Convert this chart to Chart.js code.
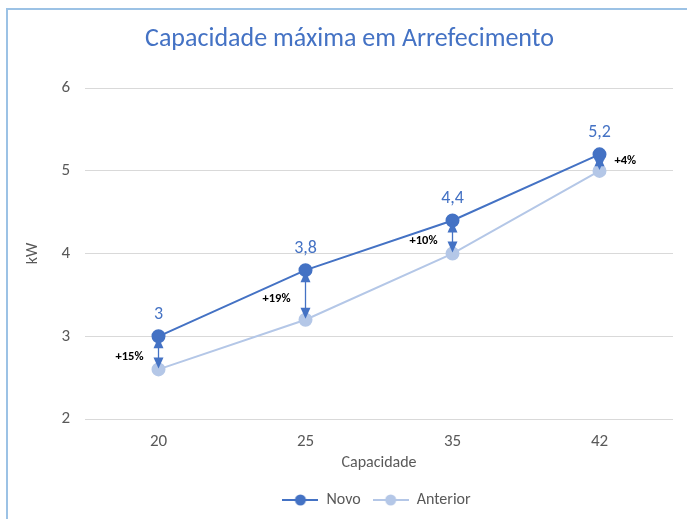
<!DOCTYPE html>
<html>
<head>
<meta charset="utf-8">
<script src="https://cdn.jsdelivr.net/npm/chart.js@4.4.0/dist/chart.umd.min.js"></script>
<style>
  html, body { margin: 0; padding: 0; background: #fff; overflow: hidden; }
  #frame {
    position: absolute; left: 6px; top: 8px;
    width: 681px; height: 511px;
    border-left: 2px solid #9CC2E5; border-top: 2px solid #9CC2E5;
  }
  #frame canvas { display: block; }
</style>
</head>
<body>
<div id="frame"><canvas id="myChart" width="681" height="511"></canvas></div>
<script>
var categories = ["20", "25", "35", "42"];
var novo = [3, 3.8, 4.4, 5.2];
var anterior = [2.6, 3.2, 4.0, 5.0];
var gains = ["+15%", "+19%", "+10%", "+4%"];
var gainSide = ["left", "left", "left", "right"];

var FONT = 'Calibri, Carlito, "Open Sans", sans-serif';
var blue = "#4472C4";
var lightBlue = "#B4C7E7";
var grey = "#595959";

// legend marker: short line with a dot in the middle
function legendIcon(color){
	var c = document.createElement("canvas");
	c.width = 36; c.height = 12;
	var g = c.getContext("2d");
	g.strokeStyle = color;
	g.lineWidth = 2;
	g.beginPath(); g.moveTo(0, 6); g.lineTo(36, 6); g.stroke();
	g.fillStyle = color;
	g.beginPath(); g.arc(18, 6, 5.5, 0, Math.PI * 2); g.fill();
	return c;
}

// arrows between the two series, gain labels, value labels
var arrowPlugin = {
	id: "arrows",
	afterDatasetsDraw: function(chart){
		var ctx = chart.ctx;
		var x = chart.scales.x, y = chart.scales.y;
		ctx.save();
		for (var i = 0; i < categories.length; i++){
			var px = x.getPixelForValue(i);
			var yTop = y.getPixelForValue(novo[i]);
			var yBot = y.getPixelForValue(anterior[i]);
			ctx.strokeStyle = blue;
			ctx.fillStyle = blue;
			ctx.lineWidth = 1.3;
			ctx.beginPath(); ctx.moveTo(px, yTop + 6); ctx.lineTo(px, yBot - 6); ctx.stroke();
			ctx.beginPath();
			ctx.moveTo(px, yTop + 1); ctx.lineTo(px - 5, yTop + 12); ctx.lineTo(px + 5, yTop + 12);
			ctx.closePath(); ctx.fill();
			ctx.beginPath();
			ctx.moveTo(px, yBot - 1); ctx.lineTo(px - 5, yBot - 12); ctx.lineTo(px + 5, yBot - 12);
			ctx.closePath(); ctx.fill();

			ctx.fillStyle = "#000";
			ctx.font = "bold 12.5px " + FONT;
			ctx.textBaseline = "middle";
			if (gainSide[i] == "left"){
				ctx.textAlign = "right";
				ctx.fillText(gains[i], px - 15, (yTop + yBot) / 2 + 4);
			} else {
				ctx.textAlign = "left";
				ctx.fillText(gains[i], px + 15, yTop + 7);
			}
			ctx.fillStyle = blue;
			ctx.font = "18px " + FONT;
			ctx.textAlign = "center";
			ctx.textBaseline = "middle";
			ctx.fillText(String(novo[i]).replace(".", ","), px, yTop - 22);
		}
		ctx.restore();
	},
	afterLayout: function(chart){
		// the original has title and legend slightly right of centre
		chart.titleBlock.left += 9;
		chart.titleBlock.right += 9;
		chart.legend.left += 36;
		chart.legend.right += 36;
	}
};

var ctx = document.getElementById("myChart");
var myChart = new Chart(ctx, {
	type: "line",
	data: {
		labels: categories,
		datasets: [
			{
				label: "Novo",
				data: novo,
				borderColor: blue,
				backgroundColor: blue,
				borderWidth: 2,
				pointRadius: 6,
				pointHoverRadius: 6
			}, {
				label: "Anterior",
				data: anterior,
				borderColor: lightBlue,
				backgroundColor: lightBlue,
				borderWidth: 2,
				pointRadius: 6,
				pointHoverRadius: 6
			}
		]
	},
	options: {
		responsive: false,
		animation: false,
		layout: { padding: { left: 0, right: 16, top: 0, bottom: 3 } },
		plugins: {
			title: {
				display: true,
				text: "Capacidade máxima em Arrefecimento",
				color: blue,
				font: { family: FONT, size: 26, weight: "normal" },
				padding: { top: 14, bottom: 33 }
			},
			legend: {
				position: "bottom",
				labels: {
					usePointStyle: true,
					pointStyleWidth: 36,
					color: grey,
					font: { family: FONT, size: 16 },
					padding: 12,
					generateLabels: function(chart){
						return chart.data.datasets.map(function(ds, i){
							return {
								text: ds.label,
								pointStyle: legendIcon(ds.borderColor),
								fillStyle: ds.borderColor,
								strokeStyle: ds.borderColor,
								lineWidth: 0,
								hidden: false,
								datasetIndex: i,
								fontColor: grey
							};
						});
					}
				}
			},
			tooltip: { enabled: false }
		},
		scales: {
			x: {
				offset: true,
				grid: { display: false, drawTicks: false },
				border: { display: false },
				ticks: { color: grey, font: { family: FONT, size: 17 }, padding: 13 },
				title: {
					display: true, text: "Capacidade", color: grey,
					font: { family: FONT, size: 16 }, padding: { top: 0, bottom: 7 }
				},
				afterFit: function(scale){ scale.height = 61; }
			},
			y: {
				min: 2,
				max: 6,
				ticks: { stepSize: 1, color: grey, font: { family: FONT, size: 17 }, padding: 15 },
				grid: { color: "#D9D9D9", drawTicks: false },
				border: { display: false },
				title: {
					display: true, text: "kW", color: grey,
					font: { family: FONT, size: 16 }, padding: { top: 15, bottom: 0 }
				},
				afterFit: function(scale){ scale.width = 77; }
			}
		}
	},
	plugins: [arrowPlugin]
});
</script>
</body>
</html>
